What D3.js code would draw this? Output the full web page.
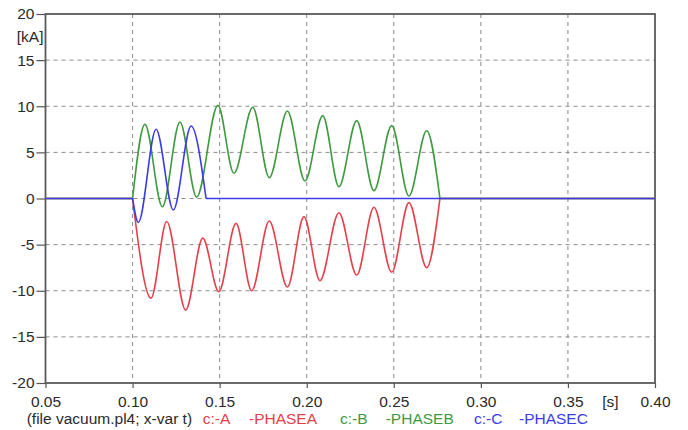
<!DOCTYPE html>
<html>
<head>
<meta charset="utf-8">
<script src="https://cdn.jsdelivr.net/npm/d3@7/dist/d3.min.js"></script>
<style>
  html, body { margin: 0; padding: 0; background: #fff; }
  svg { display: block; font-family: "Liberation Sans", Arial, sans-serif; }
</style>
</head>
<body>
<svg id="chart" width="688" height="430"></svg>
<script>
// ---- data ----
const xTicks = [0.05, 0.10, 0.15, 0.20, 0.25, 0.30, 0.35, 0.40];
const yTicks = [-20, -15, -10, -5, 0, 5, 10, 15, 20];
const xUnit = "[s]";
const yUnit = "[kA]";

// Phase A current (kA) vs time (s)
const tA = [0.100, 0.1106, 0.1196, 0.1305, 0.1403, 0.1495, 0.1594, 0.1684, 0.1785, 0.1889, 0.1984, 0.2076, 0.2185, 0.2287, 0.2386, 0.2488, 0.2587, 0.2689, 0.2765];
const iA = [0, -10.8, -2.5, -12.1, -4.3, -10.1, -2.7, -10.0, -2.44, -9.6, -1.97, -8.9, -1.54, -8.3, -0.95, -8.0, -0.45, -7.5, 0];
// Phase B
const tB = [0.100, 0.1071, 0.1171, 0.1272, 0.1368, 0.1490, 0.1582, 0.1690, 0.1785, 0.1889, 0.1990, 0.2092, 0.2185, 0.2287, 0.2386, 0.2488, 0.2587, 0.2689, 0.2765];
const iB = [0, 8.04, -0.9, 8.3, 0.15, 10.1, 2.73, 9.89, 2.26, 9.49, 1.9, 8.98, 1.28, 8.44, 0.85, 7.9, 0.27, 7.35, 0];
// Phase C
const tC = [0.100, 0.1033, 0.1135, 0.1234, 0.1336, 0.1422];
const iC = [0, -2.6, 7.5, -1.25, 7.86, 0];

const legendFile = "(file vacuum.pl4; x-var t)";
const legendNames = ["c:-A", "-PHASEA", "c:-B", "-PHASEB", "c:-C", "-PHASEC"];
const seriesColors = ["#e5404a", "#3f993f", "#3c3ce6"];

// ---- layout ----
const W = 688, H = 430;
const L = 45.5, R = 655, T = 14, B = 383;
const fontSize = 15.5;

const svg = d3.select("#chart");
const x = d3.scaleLinear().domain([xTicks[0], xTicks[xTicks.length - 1]]).range([L, R]);
const y = d3.scaleLinear().domain([yTicks[0], yTicks[yTicks.length - 1]]).range([B, T]);

// grid
const grid = svg.append("g").attr("stroke", "#8a8a8a").attr("stroke-width", 1).attr("stroke-dasharray", "4,4");
grid.selectAll("line.h").data(yTicks.slice(1, -1)).join("line")
  .attr("x1", L).attr("x2", R).attr("y1", d => y(d)).attr("y2", d => y(d));
grid.selectAll("line.v").data(xTicks.slice(1, -1)).join("line")
  .attr("x1", d => x(d)).attr("x2", d => x(d)).attr("y1", T).attr("y2", B);

// axes
const yAxis = svg.append("g").attr("transform", `translate(${L},0)`)
  .call(d3.axisLeft(y).tickValues(yTicks).tickFormat(d => String(d)).tickSize(9).tickPadding(2));
const xAxis = svg.append("g").attr("transform", `translate(0,${B})`)
  .call(d3.axisBottom(x).tickValues(xTicks).tickFormat(d3.format(".2f")).tickSize(5).tickPadding(5));
[yAxis, xAxis].forEach(a => {
  a.select(".domain").remove();
  a.selectAll("line").attr("stroke", "#555").attr("stroke-width", 1.2);
  a.selectAll("text").attr("fill", "#2a2a2a").style("font-size", fontSize + "px")
    .style("font-family", '"Liberation Sans", Arial, sans-serif');
});
xAxis.selectAll("text").attr("dy", null).attr("y", 23.7);

// frame
svg.append("rect").attr("x", L).attr("y", T).attr("width", R - L).attr("height", B - T)
  .attr("fill", "none").attr("stroke", "#5a5a5a").attr("stroke-width", 1.8);

// units
svg.append("text").attr("x", 43.5).attr("y", 42).attr("text-anchor", "end")
  .attr("fill", "#2a2a2a").style("font-size", fontSize + "px").text(yUnit);
svg.append("text").attr("x", 610.5).attr("y", 406.7).attr("text-anchor", "middle")
  .attr("fill", "#2a2a2a").style("font-size", fontSize + "px").text(xUnit);

// series
const series = [
  { t: tA, v: iA, color: seriesColors[0] },
  { t: tB, v: iB, color: seriesColors[1] },
  { t: tC, v: iC, color: seriesColors[2] }
];
const curve = d3.line().x(d => x(d[0])).y(d => y(d[1])).curve(d3.curveMonotoneX);
const straight = d3.line().x(d => x(d[0])).y(d => y(d[1]));
const x0 = xTicks[0], x1 = xTicks[xTicks.length - 1];

series.forEach(s => {
  const pts = s.t.map((t, i) => [t, s.v[i]]);
  const g = svg.append("g").attr("fill", "none").attr("stroke", s.color).attr("stroke-width", 1.6);
  g.append("path").attr("d", straight([[x0, pts[0][1]], pts[0]]));
  g.append("path").attr("d", curve(pts));
  g.append("path").attr("d", straight([pts[pts.length - 1], [x1, pts[pts.length - 1][1]]]));
});

// legend
const legY = 424.3;
svg.append("text").attr("x", 26.7).attr("y", legY).attr("fill", "#2a2a2a")
  .style("font-size", fontSize + "px").text(legendFile);
const legX = [202.7, 249, 340, 385.7, 474, 519];
legendNames.forEach((name, i) => {
  svg.append("text").attr("x", legX[i]).attr("y", legY)
    .attr("fill", seriesColors[Math.floor(i / 2)])
    .style("font-size", fontSize + "px").text(name);
});
</script>
</body>
</html>
